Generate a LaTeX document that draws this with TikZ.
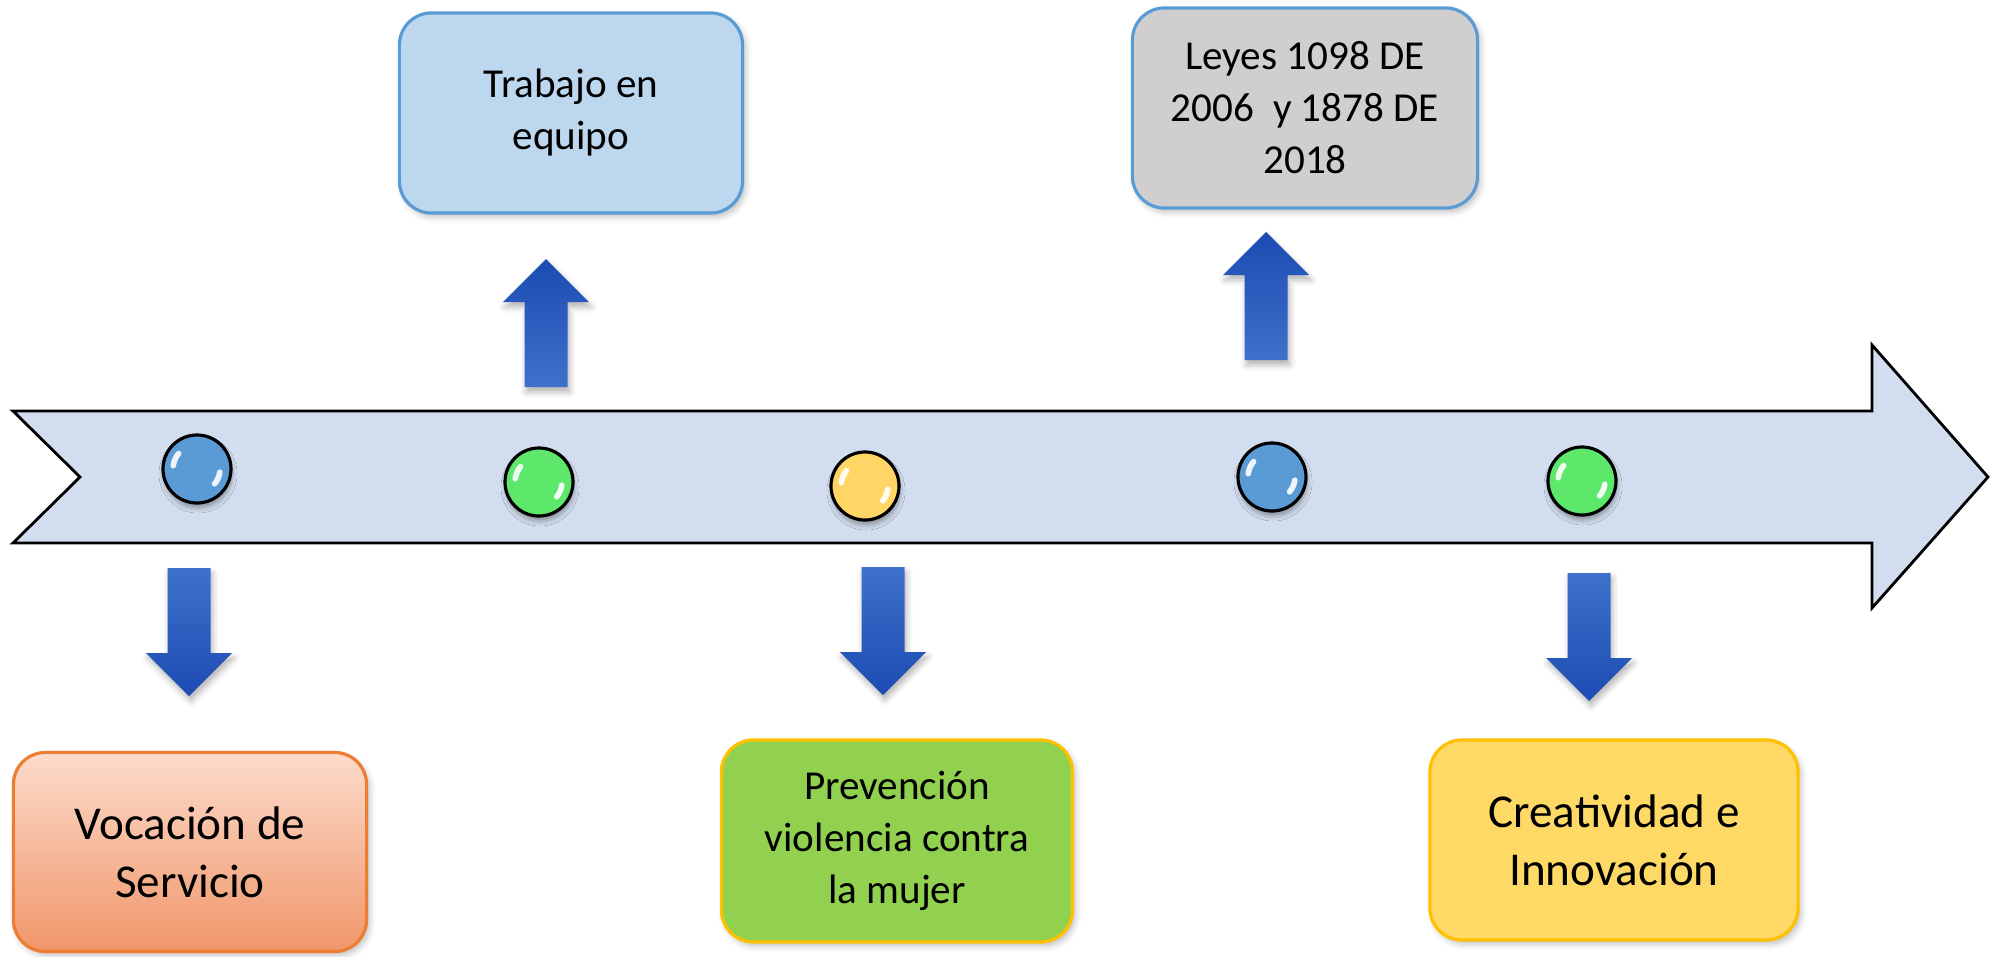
\documentclass[tikz,border=0pt]{standalone}
\usepackage{fontspec}
\setmainfont{Carlito}
\usepackage{xcolor}
\usepackage{tikz}
\usetikzlibrary{shadows.blur}

\definecolor{lineaazul}{HTML}{D2DEEF}
\definecolor{bolaazul}{HTML}{5B9BD5}
\definecolor{bolaverde}{HTML}{5DE86B}
\definecolor{bolaamarilla}{HTML}{FFD566}
\definecolor{flechaclara}{HTML}{3E71CB}
\definecolor{flechaoscura}{HTML}{1C4BB2}
\definecolor{naranjaborde}{HTML}{ED7D31}
\definecolor{naranjaarriba}{HTML}{FCDBCB}
\definecolor{naranjaabajo}{HTML}{F0966A}
\definecolor{azulcaja}{HTML}{BDD7EE}
\definecolor{azulborde}{HTML}{5B9BD5}
\definecolor{verdecaja}{HTML}{92D050}
\definecolor{oroborde}{HTML}{FFC000}
\definecolor{griscaja}{HTML}{D0CECE}
\definecolor{orocaja}{HTML}{FFD966}

\newcommand{\chica}{\fontsize{11.7pt}{14.8pt}\selectfont}
\newcommand{\grande}{\fontsize{13.4pt}{16.6pt}\selectfont}

% block arrows: #1 = x of the axis, #2 = y of the tail
\newcommand{\flechaabajo}[2]{%
  \path[flecha, top color=flechaclara, bottom color=flechaoscura]
    (#1-21.5,#2) -- ++(43,0) -- ++(0,-85) -- ++(21.5,0) -- ++(-43,-43)
    -- ++(-43,43) -- ++(21.5,0) -- cycle;}
\newcommand{\flechaarriba}[2]{%
  \path[flecha, top color=flechaoscura, bottom color=flechaclara]
    (#1-21.5,#2) -- ++(43,0) -- ++(0,85) -- ++(21.5,0) -- ++(-43,43)
    -- ++(-43,-43) -- ++(21.5,0) -- cycle;}

\begin{document}
\begin{tikzpicture}[x=0.01cm,y=0.01cm,
  bola/.style={circle,draw=black,line width=0.9pt,minimum size=0.68cm,inner sep=0pt,
    blur shadow={shadow xshift=0.01cm,shadow yshift=-0.05cm,shadow opacity=35,shadow blur radius=0.05cm}},
  brillo/.style={white,line width=1.6pt,line cap=round,opacity=0.9},
  flecha/.style={blur shadow={shadow xshift=0.02cm,shadow yshift=-0.05cm,shadow opacity=30,shadow blur radius=0.06cm}},
  caja/.style={rounded corners=0.32cm,line width=0.9pt,align=center,inner sep=0pt,
    blur shadow={shadow xshift=0.03cm,shadow yshift=-0.04cm,shadow opacity=25,shadow blur radius=0.06cm}}]
\useasboundingbox (0,0) rectangle (1990,956);

% linea de tiempo
\filldraw[draw=black,line width=0.8pt,fill=lineaazul,line join=miter]
  (13,545) -- (1872,545) -- (1872,611) -- (1988,479) -- (1872,348)
  -- (1872,413) -- (13,413) -- (80,479) -- cycle;

\node[bola,fill=bolaazul] (b1) at (197,487) {};
\node[bola,fill=bolaverde] (b2) at (539,474) {};
\node[bola,fill=bolaamarilla] (b3) at (865,470) {};
\node[bola,fill=bolaazul] (b4) at (1272,479) {};
\node[bola,fill=bolaverde] (b5) at (1582,475) {};
\foreach \b in {b1,b2,b3,b4,b5}{
  \draw[brillo] ([shift={(172:0.24cm)}]\b.center) arc[start angle=172,end angle=140,radius=0.24cm];
  \draw[brillo] ([shift={(-8:0.23cm)}]\b.center) arc[start angle=-8,end angle=-40,radius=0.23cm];
}

% flechas
\flechaabajo{189}{388}
\flechaarriba{546}{569}
\flechaabajo{883}{389}
\flechaarriba{1266}{596}
\flechaabajo{1589}{383}

% cajas
\node[caja,draw=naranjaborde,top color=naranjaarriba,bottom color=naranjaabajo,
  minimum width=3.53cm,minimum height=1.99cm,font=\grande] (voc) at (190,104) {Vocación de\\Servicio};
\node[caja,draw=azulborde,fill=azulcaja,
  minimum width=3.43cm,minimum height=2cm,font=\chica] (trab) at (571,843) {Trabajo en\\equipo};
\node[caja,draw=oroborde,fill=verdecaja,
  minimum width=3.51cm,minimum height=2.02cm,font=\chica] (prev) at (897,115) {Prevención\\violencia contra\\la mujer};
\node[caja,draw=azulborde,fill=griscaja,
  minimum width=3.45cm,minimum height=2cm,font=\chica] (leyes) at (1305,848) {Leyes 1098 DE\\2006~ y 1878 DE\\2018};
\node[caja,draw=oroborde,fill=orocaja,
  minimum width=3.68cm,minimum height=2cm,font=\grande] (crea) at (1614,116) {Creatividad e\\Innovación};
\end{tikzpicture}
\end{document}
